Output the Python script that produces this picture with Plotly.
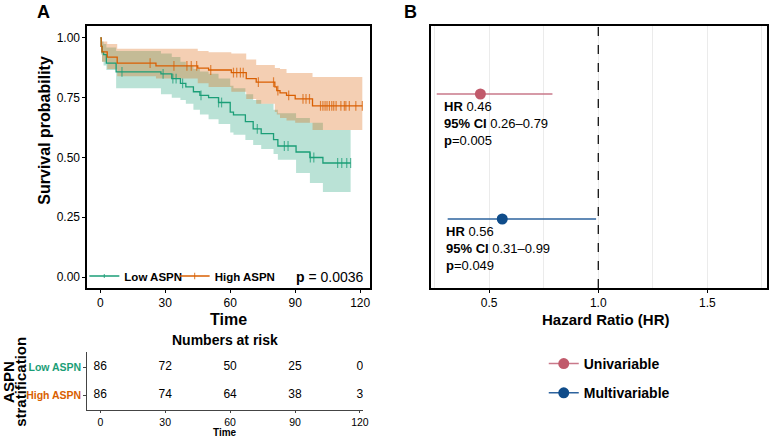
import plotly.graph_objects as go

# ---------------- data ----------------
# Low ASPN (green) Kaplan-Meier
low_event_t = [0, 0.4, 0.8, 1.5, 2.8, 7.3, 28, 33, 37, 39.5, 43, 46, 50, 54.6, 60, 61.5, 67, 70.6, 74.3, 80, 82, 90.4, 96.8, 102.8]
low_surv = [1.0, 0.965, 0.942, 0.93, 0.895, 0.858, 0.85, 0.83, 0.81, 0.795, 0.775, 0.76, 0.75, 0.73, 0.69, 0.678, 0.65, 0.62, 0.60, 0.575, 0.548, 0.523, 0.50, 0.477]
low_upper = [1.0, 0.995, 0.985, 0.975, 0.96, 0.945, 0.935, 0.92, 0.90, 0.885, 0.87, 0.86, 0.85, 0.83, 0.80, 0.79, 0.765, 0.74, 0.725, 0.70, 0.685, 0.665, 0.645, 0.615]
low_lower = [1.0, 0.93, 0.90, 0.885, 0.866, 0.79, 0.765, 0.75, 0.74, 0.725, 0.70, 0.68, 0.66, 0.64, 0.605, 0.595, 0.573, 0.552, 0.535, 0.515, 0.49, 0.435, 0.393, 0.356]
low_end = 115.6
low_censor_t = [10, 29, 33.5, 35, 38, 46.5, 54.6, 56, 72.5, 85, 86.7, 97, 98.6, 109.6, 111.5, 113.8, 115.6]

# High ASPN (orange) Kaplan-Meier
high_event_t = [0, 0.4, 0.8, 3.2, 7.8, 25.7, 45, 50, 60.5, 67.4, 72, 80.6, 81.5, 83, 86, 90, 98]
high_surv = [1.0, 0.965, 0.942, 0.92, 0.895, 0.883, 0.874, 0.866, 0.855, 0.83, 0.815, 0.795, 0.78, 0.77, 0.76, 0.745, 0.716]
high_upper = [1.0, 0.995, 0.985, 0.975, 0.955, 0.955, 0.945, 0.94, 0.935, 0.91, 0.887, 0.874, 0.874, 0.87, 0.853, 0.853, 0.837]
high_lower = [1.0, 0.935, 0.90, 0.87, 0.84, 0.83, 0.81, 0.795, 0.775, 0.745, 0.725, 0.69, 0.68, 0.665, 0.655, 0.645, 0.615]
high_end = 121
high_censor_t = [23, 34, 40, 42, 44.5, 51, 61.5, 63, 64.7, 66, 73, 80, 82, 87, 93.6, 95, 96.6, 101.7, 102.8, 103.8,
                 104.7, 105.8, 106.9, 107.8, 108.9, 111.1, 112.7, 113.4, 115, 118, 121]

p_text = "<b>p</b> = 0.0036"
time_ticks = [0, 30, 60, 90, 120]

# Numbers at risk
risk_times = [0, 30, 60, 90, 120]
low_risk = [86, 72, 50, 25, 0]
high_risk = [86, 74, 64, 38, 3]

# Forest plot
models = ["Univariable", "Multivariable"]
hr = [0.46, 0.56]
ci_lo = [0.26, 0.31]
ci_hi = [0.79, 0.99]
pvals = ["0.005", "0.049"]

# ---------------- styling ----------------
FONT = "Liberation Sans, Arial, sans-serif"
GREEN = "#1b9e77"
ORANGE = "#d95f02"
GREEN_FILL = "rgba(27,158,119,0.30)"
ORANGE_FILL = "rgba(217,95,2,0.30)"
UNI_MK = "#C15A6B"
UNI_LN = "#C9798A"
MULTI_MK = "#0F4C8A"
MULTI_LN = "#2D639E"

W, H = 774, 439


def px_x(p):
    return p / W


def px_y(p):
    return 1 - p / H


def surv_at(t, times, vals):
    s = vals[0]
    for ti, v in zip(times, vals):
        if ti <= t:
            s = v
    return s


fig = go.Figure()


def add_band(ev_t, up, lo, t_end, col, fill):
    bx = list(ev_t) + [t_end]
    fig.add_trace(go.Scatter(x=bx, y=list(lo) + [lo[-1]], mode="lines", line=dict(width=0, shape="hv", color=col),
                             showlegend=False, hoverinfo="skip", xaxis="x", yaxis="y"))
    fig.add_trace(go.Scatter(x=bx, y=list(up) + [up[-1]], mode="lines", line=dict(width=0, shape="hv", color=col),
                             fill="tonexty", fillcolor=fill, showlegend=False, hoverinfo="skip",
                             xaxis="x", yaxis="y"))


def add_line(name, ev_t, surv, t_end, cens, col, leg):
    pts = sorted(set(list(ev_t) + list(cens) + [t_end]))
    ys = [surv_at(t, ev_t, surv) for t in pts]
    sizes = [7 if t in cens else 0 for t in pts]
    fig.add_trace(go.Scatter(x=pts, y=ys, mode="lines+markers", name="<b>%s</b>" % name,
                             line=dict(color=col, width=1.3, shape="hv"),
                             marker=dict(symbol="line-ns", size=sizes, color=col, line=dict(color=col, width=1.2)),
                             xaxis="x", yaxis="y", legend=leg))


add_band(low_event_t, low_upper, low_lower, low_end, GREEN, GREEN_FILL)
add_band(high_event_t, high_upper, high_lower, high_end, ORANGE, ORANGE_FILL)
add_line("Low ASPN", low_event_t, low_surv, low_end, low_censor_t, GREEN, "legend")
add_line("High ASPN", high_event_t, high_surv, high_end, high_censor_t, ORANGE, "legend3")

# risk table numbers
fig.add_trace(go.Scatter(x=risk_times, y=[2] * len(risk_times), mode="text", text=[str(v) for v in low_risk],
                         textfont=dict(size=12, color="black", family=FONT), showlegend=False,
                         xaxis="x2", yaxis="y2"))
fig.add_trace(go.Scatter(x=risk_times, y=[1] * len(risk_times), mode="text", text=[str(v) for v in high_risk],
                         textfont=dict(size=12, color="black", family=FONT), showlegend=False,
                         xaxis="x2", yaxis="y2"))

# forest plot
rows = [2, 1]
mk_cols = [UNI_MK, MULTI_MK]
ln_cols = [UNI_LN, MULTI_LN]
for i in range(len(models)):
    fig.add_trace(go.Scatter(x=[ci_lo[i], ci_hi[i]], y=[rows[i], rows[i]], mode="lines",
                             line=dict(color=ln_cols[i], width=1.5), showlegend=False,
                             xaxis="x3", yaxis="y3"))
    fig.add_trace(go.Scatter(x=[hr[i]], y=[rows[i]], mode="lines+markers", name="<b>%s</b>" % models[i],
                             line=dict(color=ln_cols[i], width=1.5),
                             marker=dict(size=11, color=mk_cols[i]), legendgroup="g%d" % i,
                             xaxis="x3", yaxis="y3", legend="legend2"))

annotations = []
xsh = [5, -4]
for i in range(len(models)):
    txt = ("<b>HR</b> %.2f<br><b>95%% CI</b> %.2f\u2013%.2f<br><b>p</b>=%s"
           % (hr[i], ci_lo[i], ci_hi[i], pvals[i]))
    annotations.append(dict(x=ci_lo[i], y=rows[i], xref="x3", yref="y3", text=txt, showarrow=False,
                            xanchor="left", yanchor="middle", align="left", yshift=-29, xshift=xsh[i],
                            font=dict(size=13, color="black", family=FONT)))


def lab(x, y, text, size, angle=0):
    return dict(x=px_x(x), y=px_y(y), xref="paper", yref="paper", text=text, showarrow=False,
                xanchor="center", yanchor="middle", textangle=angle,
                font=dict(size=size, color="black", family=FONT))


annotations += [
    lab(44, 12, "<b>A</b>", 18),
    lab(414, 12, "<b>B</b>", 18),
    lab(45, 130, "<b>Survival probability</b>", 16, -90),
    lab(8, 382, "<b>ASPN</b>", 15, -90),
    lab(20, 382, "<b>stratification</b>", 15, -90),
    dict(x=0.985, y=0, xref="x domain", yref="y", text=p_text, showarrow=False, xanchor="right",
         yanchor="middle", font=dict(size=14, color="black", family=FONT)),
    dict(x=0.5, y=px_y(340), xref="x2 domain", yref="paper", text="<b>Numbers at risk</b>", showarrow=False,
         xanchor="center", yanchor="middle", font=dict(size=14, color="black", family=FONT)),
    dict(x=0.5, y=px_y(319), xref="x domain", yref="paper", text="<b>Time</b>", showarrow=False,
         xanchor="center", yanchor="middle", font=dict(size=16, color="black", family=FONT)),
    dict(x=0.5, y=px_y(432.5), xref="x2 domain", yref="paper", text="<b>Time</b>", showarrow=False,
         xanchor="center", yanchor="middle", font=dict(size=10, color="black", family=FONT)),
    dict(x=0.52, y=px_y(319), xref="x3 domain", yref="paper", text="<b>Hazard Ratio (HR)</b>", showarrow=False,
         xanchor="center", yanchor="middle", font=dict(size=15, color="black", family=FONT)),
]

box_axis = dict(showline=True, mirror=True, linecolor="black", linewidth=1.8, ticks="outside", ticklen=3,
                tickcolor="black", tickwidth=1, showgrid=False, zeroline=False,
                tickfont=dict(size=12, color="black", family=FONT))

leg_common = dict(xanchor="left", yanchor="middle", orientation="h", bgcolor="rgba(0,0,0,0)",
                  font=dict(size=11.5, color="black", family=FONT), itemwidth=30)

fig.update_layout(
    width=W, height=H, autosize=False, margin=dict(l=0, r=0, t=0, b=0),
    paper_bgcolor="white", plot_bgcolor="white",
    font=dict(family=FONT, color="black"),
    xaxis=dict(domain=[px_x(88), px_x(373)], range=[-6, 124.6], tickvals=time_ticks, anchor="y",
               **box_axis),
    yaxis=dict(domain=[px_y(288), px_y(26)], range=[-0.046, 1.05], tickvals=[0, 0.25, 0.5, 0.75, 1.0],
               tickformat=".2f", anchor="x", **box_axis),
    xaxis2=dict(domain=[px_x(88), px_x(366)], range=[-6, 121.5], tickvals=risk_times, anchor="y2",
                showline=True, linecolor="#444", linewidth=1, ticks="outside", ticklen=2, tickcolor="#444",
                showgrid=False, zeroline=False, tickfont=dict(size=10.5, color="black", family=FONT)),
    yaxis2=dict(domain=[px_y(410), px_y(352)], range=[0.464, 2.536], tickvals=[1, 2], anchor="x2",
                ticktext=["<span style='color:%s'><b>High ASPN</b></span>" % ORANGE,
                          "<span style='color:%s'><b>Low ASPN</b></span>" % GREEN],
                showline=True, linecolor="#444", linewidth=1, ticks="outside", ticklen=3, tickcolor="#444",
                showgrid=False, zeroline=False, tickfont=dict(size=10.5, family=FONT)),
    xaxis3=dict(domain=[px_x(434), px_x(773)], range=[0.232, 1.773], tickvals=[0.5, 1.0, 1.5],
                ticktext=["0.5", "1.0", "1.5"], anchor="y3",
                showline=True, mirror=True, linecolor="black", linewidth=1.8, ticks="outside", ticklen=3,
                tickcolor="black", showgrid=True, gridcolor="#ebebeb", gridwidth=1, zeroline=False,
                minor=dict(tickvals=[0.25, 0.75, 1.25, 1.75], showgrid=True, gridcolor="#ebebeb", ticks=""),
                tickfont=dict(size=12, color="black", family=FONT)),
    yaxis3=dict(domain=[px_y(288), px_y(26)], range=[0.448, 2.544], anchor="x3", showline=True, mirror=True,
                linecolor="black", linewidth=1.8, showticklabels=False, ticks="", showgrid=False,
                zeroline=False),
    legend=dict(x=px_x(85), y=px_y(276), **leg_common),
    legend3=dict(x=px_x(176), y=px_y(276), **leg_common),
    legend2=dict(x=px_x(548), y=px_y(348), xanchor="left", yanchor="top", orientation="v",
                 traceorder="grouped", tracegroupgap=8, bgcolor="rgba(0,0,0,0)",
                 font=dict(size=14, color="black", family=FONT), itemwidth=30),
    shapes=[dict(type="line", xref="x3", yref="y3 domain", x0=1.0, x1=1.0, y0=0, y1=1,
                 line=dict(color="black", width=1.2, dash="dash"))],
    annotations=annotations,
)

fig.write_html("out.html")
